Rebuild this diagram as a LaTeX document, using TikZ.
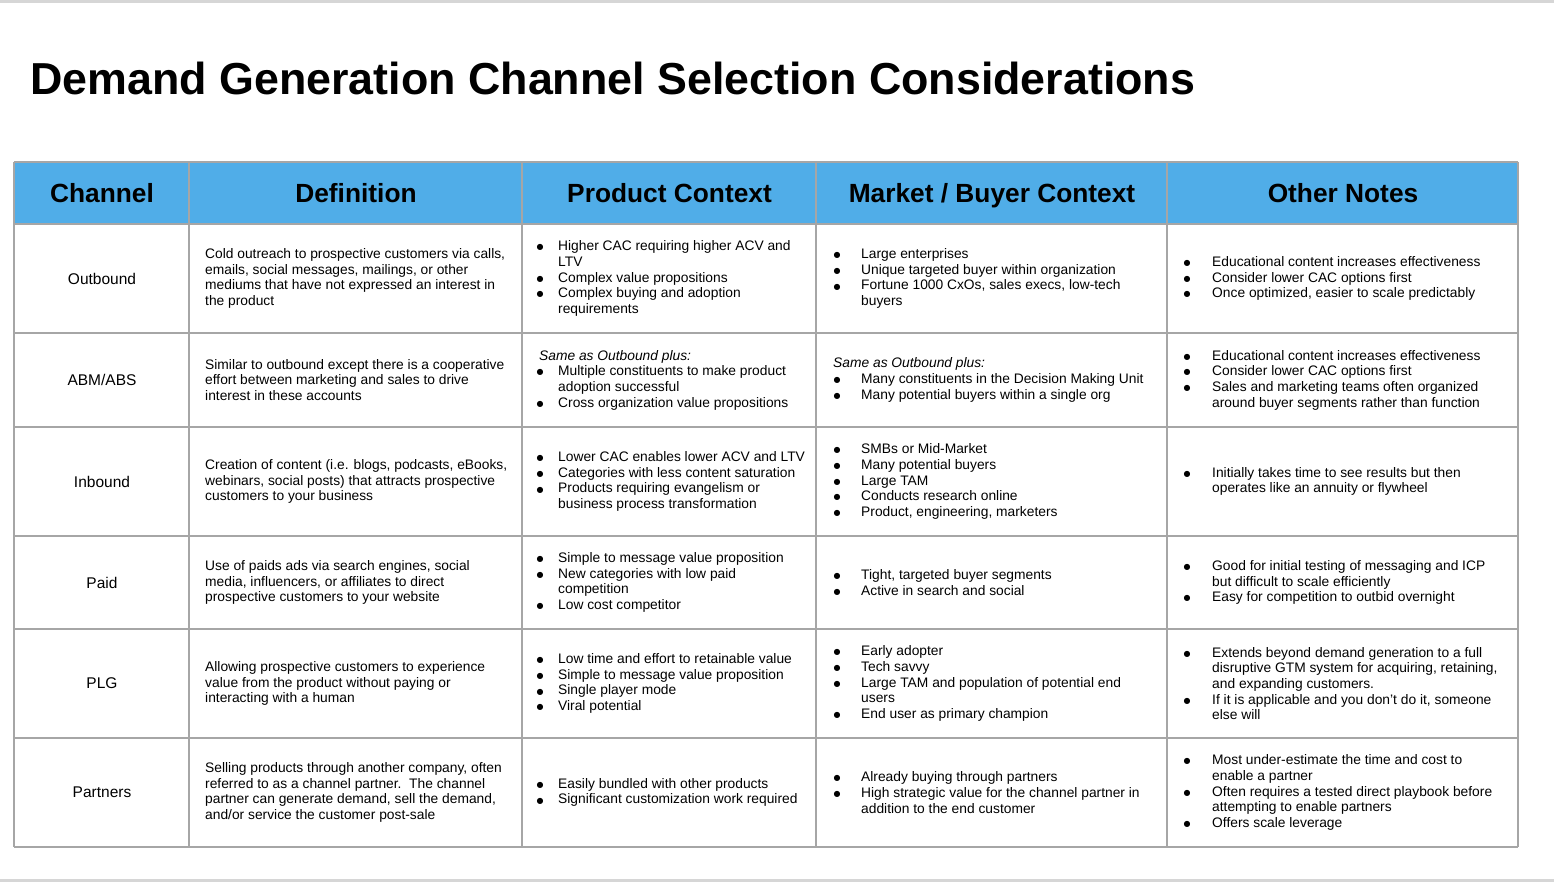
\documentclass[tikz,border=0pt]{standalone}
\usepackage{fontspec}
\setmainfont{Liberation Sans}
\newfontfamily\symfnt{DejaVu Sans}
\definecolor{hdrblue}{RGB}{80,173,232}
\definecolor{gridc}{RGB}{166,166,166}
\definecolor{bandc}{RGB}{214,214,214}
\newcommand{\bodyfnt}{\fontsize{13.8pt}{15.65pt}\selectfont}
\newlength{\bind}
\newcommand{\bdot}{\raisebox{0.8pt}{\symfnt\fontsize{8pt}{9pt}\selectfont ●}}
\newcommand{\bl}[1]{\makebox[\bind][l]{\hspace*{-0.5pt}\bdot}#1}
\newcommand{\cn}[1]{\hspace*{\bind}#1}
\tikzset{
  cellt/.style={anchor=west, align=left, inner sep=0pt, font=\bodyfnt},
  chan/.style={anchor=center, align=center, inner sep=0pt, font=\fontsize{15.5pt}{18pt}\selectfont},
  hdr/.style={anchor=base, inner sep=0pt, font=\fontsize{26.3pt}{30pt}\selectfont\bfseries},
  gridline/.style={draw=gridc, line width=2pt},
  pcol/.style={cellt, execute at begin node={\setlength{\bind}{21pt}}},
  mcol/.style={cellt, execute at begin node={\setlength{\bind}{27pt}}},
  ocol/.style={cellt, execute at begin node={\setlength{\bind}{28pt}}}
}
\begin{document}
\begin{tikzpicture}[x=1pt,y=-1pt]
\useasboundingbox (0,0) rectangle (1554,882);
\fill[white] (0,0) rectangle (1554,882);
\fill[bandc] (0,0) rectangle (1554,3);
\fill[bandc] (0,879) rectangle (1554,882);

% title
\node[anchor=base west, inner sep=0pt, font=\fontsize{44.8pt}{50pt}\selectfont\bfseries] (title) at (30,95) {Demand Generation Channel Selection Considerations};

% header band
\fill[hdrblue] (14,162) rectangle (1518,224);

% grid
\foreach \yy in {162,224,333,427,536,629,738,847}
  \draw[gridline] (14,\yy) -- (1518,\yy);
\foreach \xx in {14,189,522,816,1167,1518}
  \draw[gridline] (\xx,162) -- (\xx,847);

% headers
\node[hdr] (h1) at (102,203) {Channel};
\node[hdr] (h2) at (356,203) {Definition};
\node[hdr] (h3) at (669.5,203) {Product Context};
\node[hdr] (h4) at (992,203) {Market / Buyer Context};
\node[hdr] (h5) at (1343,203) {Other Notes};

% ---- Outbound
\node[chan] (c1) at (102,278.5) {Outbound};
\node[cellt] (d1) at (205,278.5) {Cold outreach to prospective customers via calls,\\emails, social messages, mailings, or other\\mediums that have not expressed an interest in\\the product};
\node[pcol] (p1) at (537,278.5) {\bl{Higher CAC requiring higher ACV and}\\\cn{LTV}\\\bl{Complex value propositions}\\\bl{Complex buying and adoption}\\\cn{requirements}};
\node[mcol] (m1) at (834,278.5) {\bl{Large enterprises}\\\bl{Unique targeted buyer within organization}\\\bl{Fortune 1000 CxOs, sales execs, low-tech}\\\cn{buyers}};
\node[ocol] (o1) at (1184,278.5) {\bl{Educational content increases effectiveness}\\\bl{Consider lower CAC options first}\\\bl{Once optimized, easier to scale predictably}};

% ---- ABM/ABS
\node[chan] (c2) at (102,380) {ABM/ABS};
\node[cellt] (d2) at (205,380) {Similar to outbound except there is a cooperative\\effort between marketing and sales to drive\\interest in these accounts};
\node[pcol] (p2) at (539,380) {\textit{Same as Outbound plus:}\\\hspace*{-2pt}\bl{Multiple constituents to make product}\\\hspace*{-2pt}\cn{adoption successful}\\\hspace*{-2pt}\bl{Cross organization value propositions}};
\node[mcol] (m2) at (833,380) {\textit{Same as Outbound plus:}\\\hspace*{1pt}\bl{Many constituents in the Decision Making Unit}\\\hspace*{1pt}\bl{Many potential buyers within a single org}};
\node[ocol] (o2) at (1184,380) {\bl{Educational content increases effectiveness}\\\bl{Consider lower CAC options first}\\\bl{Sales and marketing teams often organized}\\\cn{around buyer segments rather than function}};

% ---- Inbound
\node[chan] (c3) at (102,481.5) {Inbound};
\node[cellt] (d3) at (205,481.5) {Creation of content (i.e. blogs, podcasts, eBooks,\\webinars, social posts) that attracts prospective\\customers to your business};
\node[pcol] (p3) at (537,481.5) {\bl{Lower CAC enables lower ACV and LTV}\\\bl{Categories with less content saturation}\\\bl{Products requiring evangelism or}\\\cn{business process transformation}};
\node[mcol] (m3) at (834,481.5) {\bl{SMBs or Mid-Market}\\\bl{Many potential buyers}\\\bl{Large TAM}\\\bl{Conducts research online}\\\bl{Product, engineering, marketers}};
\node[ocol] (o3) at (1184,481.5) {\bl{Initially takes time to see results but then}\\\cn{operates like an annuity or flywheel}};

% ---- Paid
\node[chan] (c4) at (102,582.5) {Paid};
\node[cellt] (d4) at (205,582.5) {Use of paids ads via search engines, social\\media, influencers, or affiliates to direct\\prospective customers to your website};
\node[pcol] (p4) at (537,582.5) {\bl{Simple to message value proposition}\\\bl{New categories with low paid}\\\cn{competition}\\\bl{Low cost competitor}};
\node[mcol] (m4) at (834,582.5) {\bl{Tight, targeted buyer segments}\\\bl{Active in search and social}};
\node[ocol] (o4) at (1184,582.5) {\bl{Good for initial testing of messaging and ICP}\\\cn{but difficult to scale efficiently}\\\bl{Easy for competition to outbid overnight}};

% ---- PLG
\node[chan] (c5) at (102,683.5) {PLG};
\node[cellt] (d5) at (205,683.5) {Allowing prospective customers to experience\\value from the product without paying or\\interacting with a human};
\node[pcol] (p5) at (537,683.5) {\bl{Low time and effort to retainable value}\\\bl{Simple to message value proposition}\\\bl{Single player mode}\\\bl{Viral potential}};
\node[mcol] (m5) at (834,683.5) {\bl{Early adopter}\\\bl{Tech savvy}\\\bl{Large TAM and population of potential end}\\\cn{users}\\\bl{End user as primary champion}};
\node[ocol] (o5) at (1184,683.5) {\bl{Extends beyond demand generation to a full}\\\cn{disruptive GTM system for acquiring, retaining,}\\\cn{and expanding customers.}\\\bl{If it is applicable and you don’t do it, someone}\\\cn{else will}};

% ---- Partners
\node[chan] (c6) at (102,792.5) {Partners};
\node[cellt] (d6) at (205,792.5) {Selling products through another company, often\\referred to as a channel partner.\ \ The channel\\partner can generate demand, sell the demand,\\and/or service the customer post-sale};
\node[pcol] (p6) at (537,792.5) {\bl{Easily bundled with other products}\\\bl{Significant customization work required}};
\node[mcol] (m6) at (834,792.5) {\bl{Already buying through partners}\\\bl{High strategic value for the channel partner in}\\\cn{addition to the end customer}};
\node[ocol] (o6) at (1184,792.5) {\bl{Most under-estimate the time and cost to}\\\cn{enable a partner}\\\bl{Often requires a tested direct playbook before}\\\cn{attempting to enable partners}\\\bl{Offers scale leverage}};
\end{tikzpicture}
\end{document}
